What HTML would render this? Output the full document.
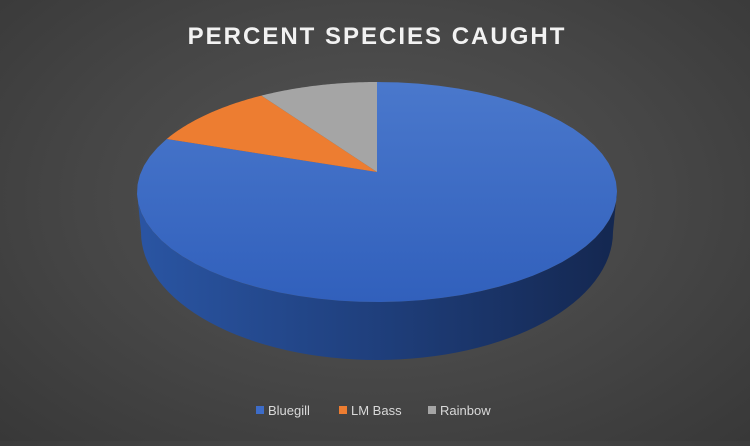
<!DOCTYPE html>
<html><head><meta charset="utf-8"><style>
html,body{margin:0;padding:0;}
body{width:750px;height:441px;overflow:hidden;background:radial-gradient(ellipse at 50% 45%,#555555 0%,#464646 55%,#383838 100%);font-family:"Liberation Sans",sans-serif;}
</style></head><body>
<svg width="750" height="441" viewBox="0 0 750 441">
<defs>
<linearGradient id="side" x1="0" x2="1" y1="0" y2="0">
<stop offset="0" stop-color="#2a55a3"/><stop offset="0.5" stop-color="#1f3f7c"/><stop offset="1" stop-color="#142750"/>
</linearGradient>
<linearGradient id="top" x1="0" x2="0" y1="0" y2="1">
<stop offset="0" stop-color="#4a78cc"/><stop offset="1" stop-color="#3160bc"/>
</linearGradient>
</defs>
<text x="377" y="44" text-anchor="middle" fill="#f2f2f2" font-size="24" font-weight="bold" letter-spacing="2">PERCENT SPECIES CAUGHT</text>
<g id="pie"></g>
<g id="legend"></g>
</svg>
<script>
const categories=["Bluegill","LM Bass","Rainbow"];
const values=[83,9,8];
const colors=["#3d6cc8","#ed7d31","#a5a5a5"];
const cx=377,cy=192,rx=240,ry=110,ax=377,ay=172;
const NS="http://www.w3.org/2000/svg";
const pie=document.getElementById('pie');
function pt(t){return [cx+rx*Math.sin(t),cy-ry*Math.cos(t)];}
const side=document.createElementNS(NS,'path');
side.setAttribute('d',`M${cx-rx},${cy} A${rx},${ry} 0 0 0 ${cx+rx},${cy} L${cx+rx-4},${cy+40} A${rx-4},${128} 0 0 1 ${cx-rx+4},${cy+40} Z`);
side.setAttribute('fill','url(#side)');


pie.appendChild(side);
const total=values.reduce((a,b)=>a+b,0);
let acc=0;
values.forEach((v,i)=>{
  const t0=acc/total*2*Math.PI; acc+=v; const t1=acc/total*2*Math.PI;
  const p0=pt(t0);
  let d=`M${ax},${ay} L${p0[0]},${p0[1]}`;
  const steps=60;
  for(let k=1;k<=steps;k++){const p=pt(t0+(t1-t0)*k/steps);d+=` L${p[0].toFixed(2)},${p[1].toFixed(2)}`;}
  d+=' Z';
  const s=document.createElementNS(NS,'path');
  s.setAttribute('d',d);
  s.setAttribute('fill',i===0?'url(#top)':colors[i]);
  
  
  pie.appendChild(s);
});
const lg=document.getElementById('legend');
const lx=[256,339,428];
categories.forEach((c,i)=>{
  const g=document.createElementNS(NS,'g');
  
  
  const r=document.createElementNS(NS,'rect');
  r.setAttribute('x',lx[i]);r.setAttribute('y',406);r.setAttribute('width',8);r.setAttribute('height',8);
  r.setAttribute('fill',colors[i]);
  const t=document.createElementNS(NS,'text');
  t.setAttribute('x',lx[i]+12);t.setAttribute('y',415);t.setAttribute('fill','#d9d9d9');t.setAttribute('font-size','13');
  t.textContent=c;
  g.appendChild(r);g.appendChild(t);lg.appendChild(g);
});
</script>
</body></html>
